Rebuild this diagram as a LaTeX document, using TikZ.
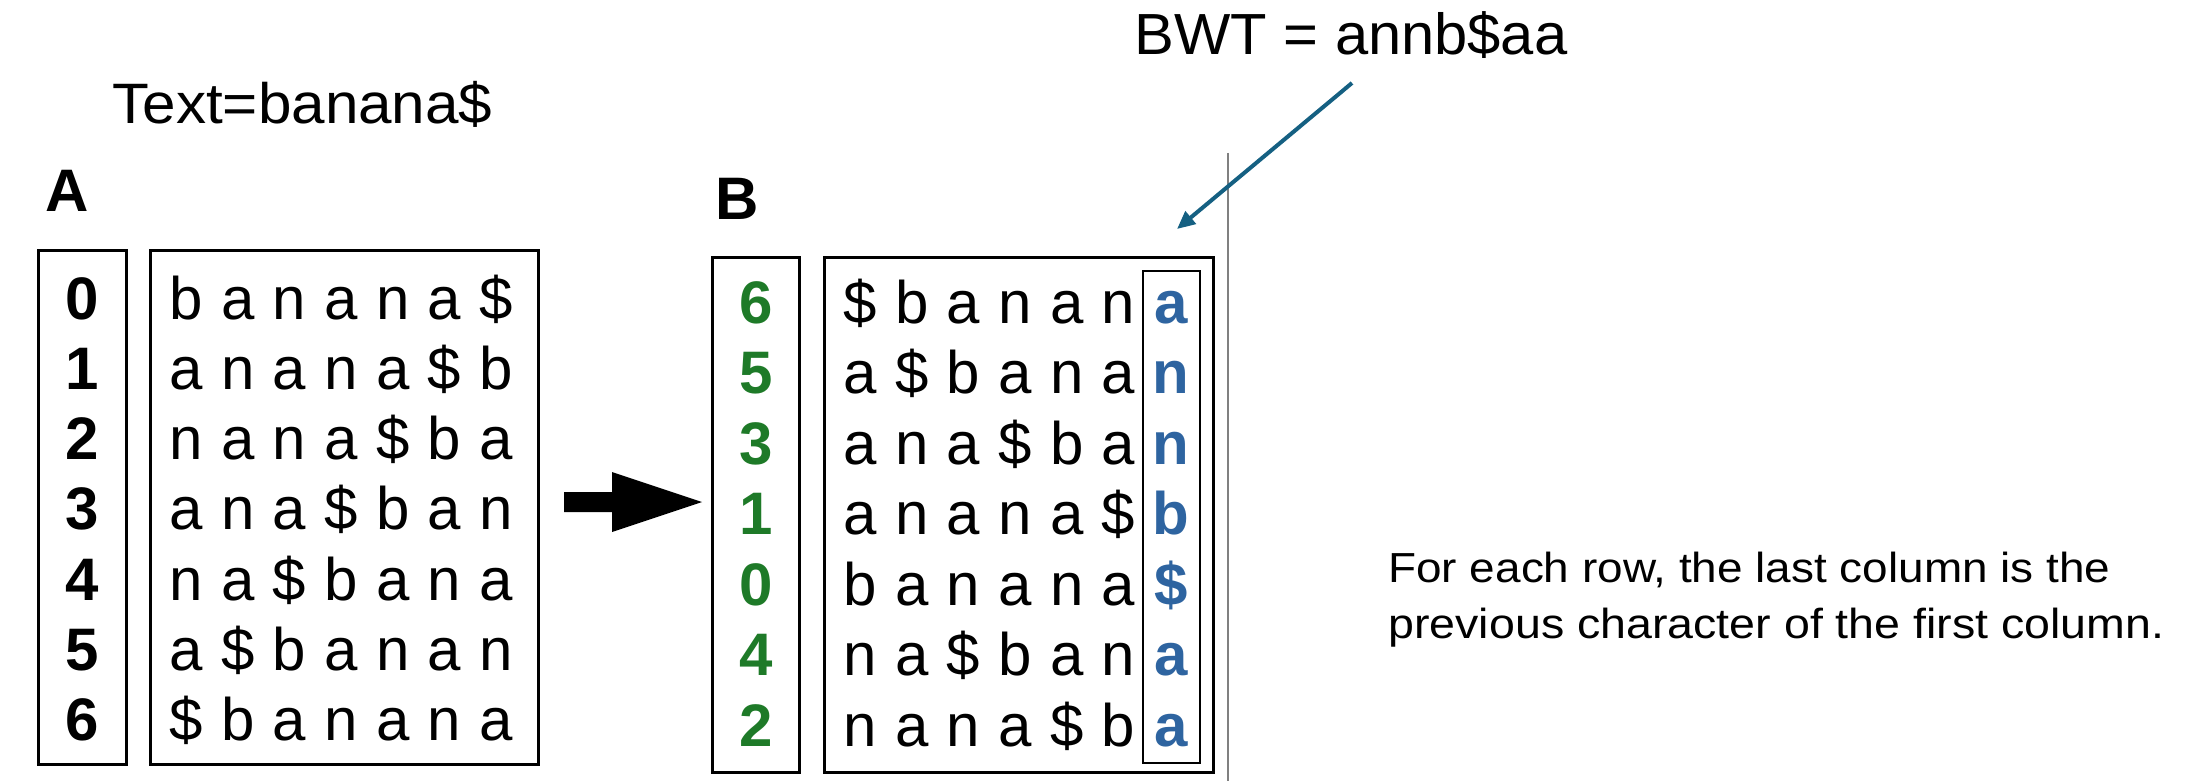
\documentclass[tikz,border=0pt]{standalone}
\usepackage{fontspec}
\usepackage{graphicx}
\setmainfont{Liberation Sans}
\usetikzlibrary{arrows.meta}
\definecolor{idgreen}{RGB}{30,122,40}
\definecolor{bwtblue}{RGB}{46,100,160}
\definecolor{arrblue}{HTML}{156082}
\tikzset{
  cell/.style={anchor=base, inner sep=0pt, font=\fontsize{30}{36}\selectfont},
  idxcell/.style={anchor=base, inner sep=0pt, font=\fontsize{30}{36}\selectfont\bfseries},
  frame/.style={draw=black, line width=1.5pt, inner sep=0pt},
  paneltag/.style={anchor=base west, inner sep=0pt, font=\fontsize{30}{36}\selectfont\bfseries},
  plaintext/.style={anchor=base west, inner sep=0pt},
}
\begin{document}
\begin{tikzpicture}[x=0.5pt, y=-0.5pt]
\useasboundingbox (0,0) rectangle (2195,781);

% titles
\node[plaintext, font=\fontsize{28.5}{34}\selectfont] (title) at (112,123) {\resizebox{190pt}{\height}{Text=banana\$}};
\node[plaintext, font=\fontsize{29}{35}\selectfont] (bwt) at (1134,55) {\resizebox{216.5pt}{\height}{BWT = annb\$aa}};

% panel tags
\node[paneltag] (tagA) at (45,211) {A};
\node[paneltag] (tagB) at (715,219) {B};

% frames
\node[frame, minimum width=44pt, minimum height=257pt] (Aidx) at (82,507) {};
\node[frame, minimum width=194pt, minimum height=257pt] (Atxt) at (344,507) {};
\node[frame, minimum width=43.5pt, minimum height=257.5pt] (Bidx) at (755.5,514.5) {};
\node[frame, minimum width=194.5pt, minimum height=257.5pt] (Btxt) at (1018.5,514.5) {};
\node[draw=black, line width=1.2pt, inner sep=0pt, minimum width=28.5pt, minimum height=246pt] (Blast) at (1171.5,517) {};

% panel A
\foreach \r/\s in {0/{b,a,n,a,n,a,\$},1/{a,n,a,n,a,\$,b},2/{n,a,n,a,\$,b,a},3/{a,n,a,\$,b,a,n},4/{n,a,\$,b,a,n,a},5/{a,\$,b,a,n,a,n},6/{\$,b,a,n,a,n,a}}{
  \node[idxcell] (Ai\r) at (82, 319+70.3*\r) {\r};
  \foreach \ch [count=\c from 0] in \s {
    \node[cell] (A-\r-\c) at (186+51.7*\c, 319+70.3*\r) {\ch};
  }
}

% panel B
\foreach \r/\i/\s in {0/6/{\$,b,a,n,a,n,a},1/5/{a,\$,b,a,n,a,n},2/3/{a,n,a,\$,b,a,n},3/1/{a,n,a,n,a,\$,b},4/0/{b,a,n,a,n,a,\$},5/4/{n,a,\$,b,a,n,a},6/2/{n,a,n,a,\$,b,a}}{
  \node[idxcell, text=idgreen] (Bi\r) at (756, 323+70.5*\r) {\i};
  \foreach \ch [count=\c from 0] in \s {
    \ifnum\c=6
      \node[idxcell, text=bwtblue] (B-\r-\c) at (1171, 323+70.5*\r) {\ch};
    \else
      \node[cell] (B-\r-\c) at (860+51.7*\c, 323+70.5*\r) {\ch};
    \fi
  }
}

% big black arrow
\fill[black] (564,492) -- (612,492) -- (612,472) -- (702,502) -- (612,532) -- (612,512) -- (564,512) -- cycle;

% divider
\coordinate (divtop) at (1228,153);
\coordinate (divbot) at (1228,781);
\draw[gray, line width=1pt] (divtop) -- (divbot);

% blue arrow
\coordinate (bwtfrom) at (1352,83);
\coordinate (bwtto) at (1177,229);
\draw[arrblue, line width=2pt, -{Triangle[length=9pt,width=8pt]}] (bwtfrom) -- (bwtto);

% note
\node[plaintext, font=\fontsize{21}{25}\selectfont] (note1) at (1388,582) {\resizebox{361pt}{\height}{For each row, the last column is the}};
\node[plaintext, font=\fontsize{21}{25}\selectfont] (note2) at (1388,638) {\resizebox{388pt}{\height}{previous character of the first column.}};
\end{tikzpicture}
\end{document}
